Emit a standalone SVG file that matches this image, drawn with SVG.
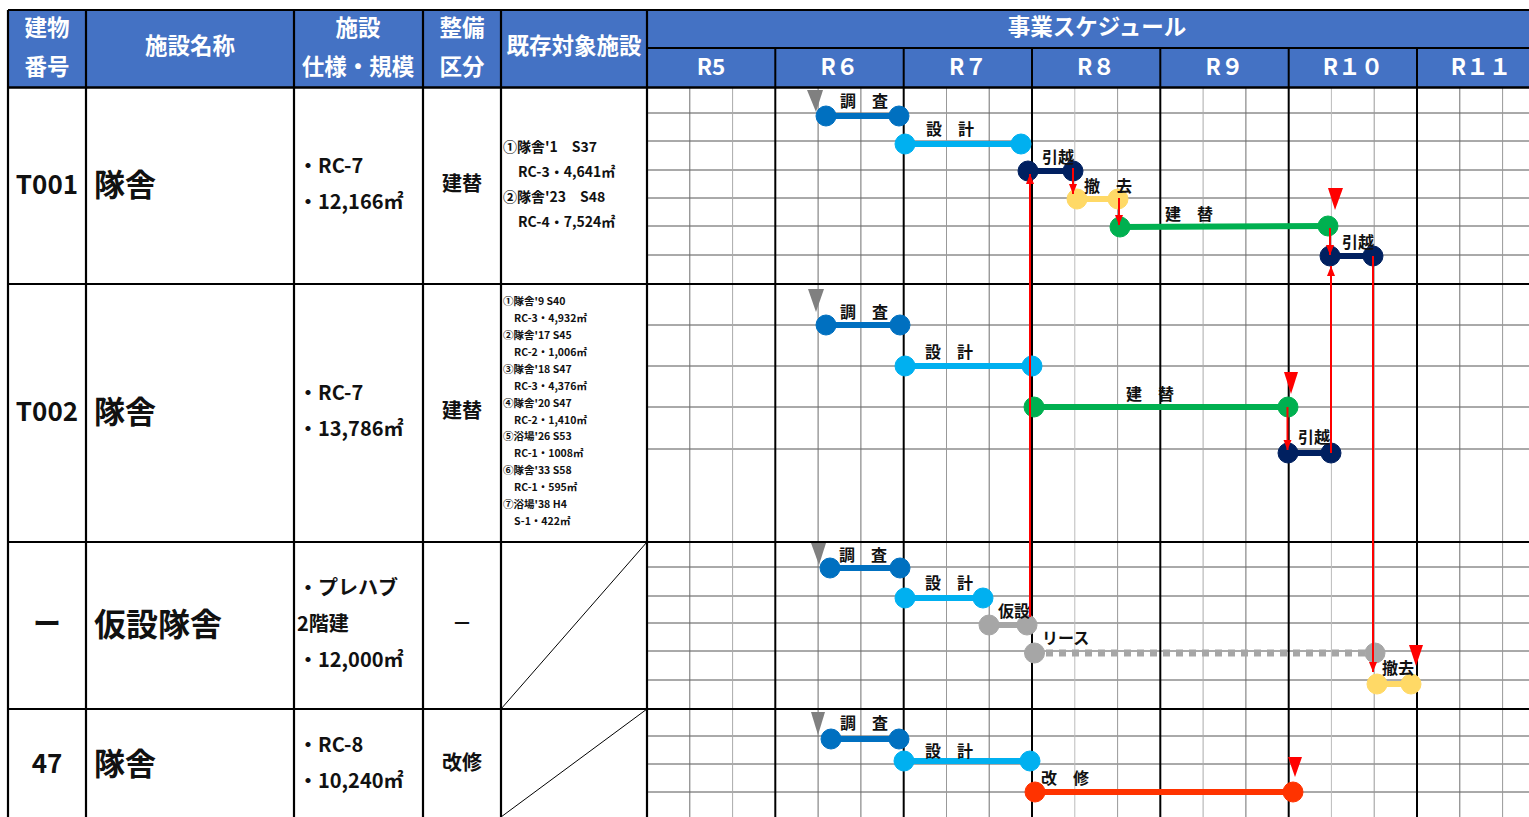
<svg xmlns="http://www.w3.org/2000/svg" width="1529" height="817" viewBox="0 0 1529 817">
<defs>
<style>
text{font-family:"Noto Sans CJK JP","Noto Sans CJK SC",sans-serif;font-weight:bold;fill:#111}
.hdr{fill:#fff;font-size:22.5px;text-anchor:middle;dominant-baseline:central}
.c{text-anchor:middle;dominant-baseline:central}
.m{dominant-baseline:central}
.lbl{font-size:16px;dominant-baseline:central}
.sub{stroke:#6e6e6e;stroke-width:1}
.subh{stroke:#555;stroke-width:1}
.yr{stroke:#000;stroke-width:2}
.bd{stroke:#000;stroke-width:2.2}
.bar{stroke-width:6}
.arr{stroke:#ff0000;stroke-width:2;fill:none;marker-end:url(#ah)}
.gt{fill:#808080}
.rt{fill:#ff0000}
</style>
<marker id="ah" markerUnits="userSpaceOnUse" markerWidth="10" markerHeight="10" refX="10" refY="4" orient="auto">
<path d="M0,0 L10,4 L0,8 z" fill="#ff0000"/>
</marker>
</defs>
<rect width="1529" height="817" fill="#fff"/>

<!-- header -->
<g id="header">
<rect x="8" y="10" width="1521" height="78" fill="#4472C4"/>
<line x1="8" y1="10" x2="1529" y2="10" class="bd"/>
<line x1="647" y1="48" x2="1529" y2="48" class="bd"/>
<g class="yr">
<line x1="775.3" y1="48" x2="775.3" y2="88"/>
<line x1="903.7" y1="48" x2="903.7" y2="88"/>
<line x1="1032" y1="48" x2="1032" y2="88"/>
<line x1="1160.3" y1="48" x2="1160.3" y2="88"/>
<line x1="1288.7" y1="48" x2="1288.7" y2="88"/>
<line x1="1417" y1="48" x2="1417" y2="88"/>
</g>
<text class="hdr" x="47" y="26">建物</text>
<text class="hdr" x="47" y="65">番号</text>
<text class="hdr" x="190" y="44">施設名称</text>
<text class="hdr" x="358" y="26">施設</text>
<text class="hdr" x="358" y="65">仕様・規模</text>
<text class="hdr" x="462" y="26">整備</text>
<text class="hdr" x="462" y="65">区分</text>
<text class="hdr" x="574" y="44">既存対象施設</text>
<text class="hdr" x="1097" y="25">事業スケジュール</text>
<text class="hdr" x="711" y="65">R5</text>
<text class="hdr" x="839.5" y="65">R６</text>
<text class="hdr" x="968" y="65">R７</text>
<text class="hdr" x="1096" y="65">R８</text>
<text class="hdr" x="1224.5" y="65">R９</text>
<text class="hdr" x="1353" y="65">R１０</text>
<text class="hdr" x="1481" y="65">R１１</text>
</g>

<!-- schedule grid -->
<g id="grid">
<g class="subh">
<line x1="647" y1="113" x2="1529" y2="113"/>
<line x1="647" y1="141" x2="1529" y2="141"/>
<line x1="647" y1="170" x2="1529" y2="170"/>
<line x1="647" y1="198" x2="1529" y2="198"/>
<line x1="647" y1="226" x2="1529" y2="226"/>
<line x1="647" y1="255" x2="1529" y2="255"/>
<line x1="647" y1="325" x2="1529" y2="325"/>
<line x1="647" y1="366" x2="1529" y2="366"/>
<line x1="647" y1="407" x2="1529" y2="407"/>
<line x1="647" y1="449" x2="1529" y2="449"/>
<line x1="647" y1="567" x2="1529" y2="567"/>
<line x1="647" y1="596" x2="1529" y2="596"/>
<line x1="647" y1="623" x2="1529" y2="623"/>
<line x1="647" y1="651" x2="1529" y2="651"/>
<line x1="647" y1="680" x2="1529" y2="680"/>
<line x1="647" y1="736" x2="1529" y2="736"/>
<line x1="647" y1="764" x2="1529" y2="764"/>
<line x1="647" y1="792" x2="1529" y2="792"/>
</g>
<g class="sub">
<line x1="689.8" y1="88" x2="689.8" y2="817"/>
<line x1="732.6" y1="88" x2="732.6" y2="817" stroke="#aaa"/>
<line x1="818.1" y1="88" x2="818.1" y2="817"/>
<line x1="860.9" y1="88" x2="860.9" y2="817"/>
<line x1="946.5" y1="88" x2="946.5" y2="817" stroke="#999"/>
<line x1="989.2" y1="88" x2="989.2" y2="817"/>
<line x1="1074.8" y1="88" x2="1074.8" y2="817" stroke="#bbb"/>
<line x1="1117.6" y1="88" x2="1117.6" y2="817" stroke="#999"/>
<line x1="1203.1" y1="88" x2="1203.1" y2="817" stroke="#aaa"/>
<line x1="1245.9" y1="88" x2="1245.9" y2="817"/>
<line x1="1331.4" y1="88" x2="1331.4" y2="817" stroke="#bbb"/>
<line x1="1374.2" y1="88" x2="1374.2" y2="817" stroke="#999"/>
<line x1="1459.8" y1="88" x2="1459.8" y2="817"/>
<line x1="1502.6" y1="88" x2="1502.6" y2="817" stroke="#999"/>
</g>
<g class="yr">
<line x1="775.3" y1="88" x2="775.3" y2="817"/>
<line x1="903.7" y1="88" x2="903.7" y2="817"/>
<line x1="1032" y1="88" x2="1032" y2="817"/>
<line x1="1160.3" y1="88" x2="1160.3" y2="817"/>
<line x1="1288.7" y1="88" x2="1288.7" y2="817"/>
<line x1="1417" y1="88" x2="1417" y2="817"/>
</g>
</g>

<!-- table borders -->
<g id="borders" class="bd">
<line x1="8" y1="10" x2="8" y2="817"/>
<line x1="86" y1="10" x2="86" y2="817"/>
<line x1="294" y1="10" x2="294" y2="817"/>
<line x1="423" y1="10" x2="423" y2="817"/>
<line x1="501" y1="10" x2="501" y2="817"/>
<line x1="647" y1="10" x2="647" y2="817"/>
<line x1="8" y1="87.5" x2="1529" y2="87.5" stroke-width="2.5"/>
<line x1="8" y1="284" x2="1529" y2="284"/>
<line x1="8" y1="542" x2="1529" y2="542"/>
<line x1="8" y1="709" x2="1529" y2="709"/>
<line x1="501" y1="709" x2="647" y2="542" stroke-width="1"/>
<line x1="501" y1="817" x2="647" y2="709" stroke-width="1"/>
</g>

<!-- row T001 -->
<g id="row-T001">
<text class="c" x="47" y="182" font-size="26">T001</text>
<text class="m" x="94" y="182" font-size="31">隊舎</text>
<text class="m" x="298" y="164" font-size="20">・RC-7</text>
<text class="m" x="298" y="200" font-size="20">・12,166㎡</text>
<text class="c" x="462" y="182" font-size="20">建替</text>
<text class="m" x="503" y="146" font-size="14">①隊舎'1　S37</text>
<text class="m" x="518" y="171" font-size="14">RC-3・4,641㎡</text>
<text class="m" x="503" y="196" font-size="14">②隊舎'23　S48</text>
<text class="m" x="518" y="221" font-size="14">RC-4・7,524㎡</text>
</g>

<!-- row T002 -->
<g id="row-T002">
<text class="c" x="47" y="409" font-size="26">T002</text>
<text class="m" x="94" y="409" font-size="31">隊舎</text>
<text class="m" x="298" y="391" font-size="20">・RC-7</text>
<text class="m" x="298" y="427" font-size="20">・13,786㎡</text>
<text class="c" x="462" y="409" font-size="20">建替</text>
<g font-size="10.5">
<text class="m" x="503" y="300">①隊舎'9 S40</text>
<text class="m" x="514" y="317">RC-3・4,932㎡</text>
<text class="m" x="503" y="334">②隊舎'17 S45</text>
<text class="m" x="514" y="351">RC-2・1,006㎡</text>
<text class="m" x="503" y="368">③隊舎'18 S47</text>
<text class="m" x="514" y="385">RC-3・4,376㎡</text>
<text class="m" x="503" y="402">④隊舎'20 S47</text>
<text class="m" x="514" y="419">RC-2・1,410㎡</text>
<text class="m" x="503" y="435">⑤浴場'26 S53</text>
<text class="m" x="514" y="452">RC-1・1008㎡</text>
<text class="m" x="503" y="469">⑥隊舎'33 S58</text>
<text class="m" x="514" y="486">RC-1・595㎡</text>
<text class="m" x="503" y="503">⑦浴場'38 H4</text>
<text class="m" x="514" y="520">S-1・422㎡</text>
</g>
</g>

<!-- row prefab -->
<g id="row-prefab">
<text class="c" x="47" y="622" font-size="28">ー</text>
<text class="m" x="94" y="622" font-size="32">仮設隊舎</text>
<text class="m" x="298" y="586" font-size="20">・プレハブ</text>
<text class="m" x="297" y="622" font-size="20">2階建</text>
<text class="m" x="298" y="658" font-size="20">・12,000㎡</text>
<text class="c" x="462" y="622" font-size="20" font-weight="normal" fill="#444">－</text>
</g>

<!-- row 47 -->
<g id="row-47">
<text class="c" x="47" y="761" font-size="26">47</text>
<text class="m" x="94" y="761" font-size="31">隊舎</text>
<text class="m" x="298" y="743" font-size="20">・RC-8</text>
<text class="m" x="298" y="779" font-size="20">・10,240㎡</text>
<text class="c" x="462" y="761" font-size="20">改修</text>
</g>

<!-- bars T001 -->
<g id="bars-T001">
<polygon class="gt" points="807,90 823,90 816,112"/>
<g stroke="#0070C0" fill="#0070C0"><line class="bar" x1="826" y1="116" x2="899" y2="116"/><circle cx="826" cy="116" r="10"/><circle cx="899" cy="116" r="10"/></g>
<text class="lbl" x="840" y="100">調　査</text>
<g stroke="#00B0F0" fill="#00B0F0"><line class="bar" x1="905" y1="144" x2="1021" y2="144"/><circle cx="905" cy="144" r="10"/><circle cx="1021" cy="144" r="10"/></g>
<text class="lbl" x="926" y="128">設　計</text>
<g stroke="#002060" fill="#002060"><line class="bar" x1="1028" y1="171" x2="1073" y2="171"/><circle cx="1028" cy="171" r="10"/><circle cx="1073" cy="171" r="10"/></g>
<text class="lbl" x="1042" y="156">引越</text>
<g stroke="#FFD966" fill="#FFD966"><line class="bar" x1="1077" y1="199" x2="1118" y2="199"/><circle cx="1077" cy="199" r="10"/><circle cx="1118" cy="199" r="10"/></g>
<text class="lbl" x="1084" y="185">撤　去</text>
<g stroke="#00B050" fill="#00B050"><line class="bar" x1="1120" y1="227" x2="1328" y2="226"/><circle cx="1120" cy="227" r="10"/><circle cx="1328" cy="226" r="10"/></g>
<text class="lbl" x="1165" y="213">建　替</text>
<polygon class="rt" points="1328,188 1343,188 1335,210"/>
<g stroke="#002060" fill="#002060"><line class="bar" x1="1330" y1="256" x2="1373" y2="256"/><circle cx="1330" cy="256" r="10"/><circle cx="1373" cy="256" r="10"/></g>
<text class="lbl" x="1342" y="241">引越</text>
</g>

<!-- bars T002 -->
<g id="bars-T002">
<polygon class="gt" points="808,289 824,289 816,312"/>
<g stroke="#0070C0" fill="#0070C0"><line class="bar" x1="826" y1="325" x2="900" y2="325"/><circle cx="826" cy="325" r="10"/><circle cx="900" cy="325" r="10"/></g>
<text class="lbl" x="840" y="311">調　査</text>
<g stroke="#00B0F0" fill="#00B0F0"><line class="bar" x1="905" y1="366" x2="1032" y2="366"/><circle cx="905" cy="366" r="10"/><circle cx="1032" cy="366" r="10"/></g>
<text class="lbl" x="925" y="351">設　計</text>
<g stroke="#00B050" fill="#00B050"><line class="bar" x1="1034" y1="407" x2="1288" y2="407"/><circle cx="1034" cy="407" r="10"/><circle cx="1288" cy="407" r="10"/></g>
<text class="lbl" x="1126" y="393">建　替</text>
<polygon class="rt" points="1284,372 1298,372 1291,394"/>
<g stroke="#002060" fill="#002060"><line class="bar" x1="1288" y1="453" x2="1331" y2="453"/><circle cx="1288" cy="453" r="10"/><circle cx="1331" cy="453" r="10"/></g>
<text class="lbl" x="1298" y="436">引越</text>
</g>

<!-- bars prefab -->
<g id="bars-prefab">
<polygon class="gt" points="811,543 826,543 819,565"/>
<g stroke="#0070C0" fill="#0070C0"><line class="bar" x1="830" y1="568" x2="900" y2="568"/><circle cx="830" cy="568" r="10"/><circle cx="900" cy="568" r="10"/></g>
<text class="lbl" x="839" y="554">調　査</text>
<g stroke="#00B0F0" fill="#00B0F0"><line class="bar" x1="905" y1="598" x2="983" y2="598"/><circle cx="905" cy="598" r="10"/><circle cx="983" cy="598" r="10"/></g>
<text class="lbl" x="925" y="582">設　計</text>
<g stroke="#A6A6A6" fill="#A6A6A6"><line class="bar" x1="989" y1="625" x2="1027" y2="625"/><circle cx="989" cy="625" r="10"/><circle cx="1027" cy="625" r="10"/></g>
<text class="lbl" x="998" y="610">仮設</text>
<g stroke="#A6A6A6" fill="#A6A6A6"><line x1="1046" y1="653" x2="1366" y2="653" stroke-width="7" stroke-dasharray="7 6"/><circle cx="1034.5" cy="653" r="10"/><circle cx="1375" cy="653" r="10"/></g>
<text class="lbl" x="1042" y="637">リース</text>
<g stroke="#FFD966" fill="#FFD966"><line class="bar" x1="1377" y1="684" x2="1411" y2="684"/><circle cx="1377" cy="684" r="10"/><circle cx="1411" cy="684" r="10"/></g>
<text class="lbl" x="1382" y="667">撤去</text>
<polygon class="rt" points="1409,645 1423,645 1416,666"/>
</g>

<!-- bars 47 -->
<g id="bars-47">
<polygon class="gt" points="811,712 825,712 818,735"/>
<g stroke="#0070C0" fill="#0070C0"><line class="bar" x1="831" y1="739" x2="899" y2="739"/><circle cx="831" cy="739" r="10"/><circle cx="899" cy="739" r="10"/></g>
<text class="lbl" x="840" y="722">調　査</text>
<g stroke="#00B0F0" fill="#00B0F0"><line class="bar" x1="904" y1="761" x2="1030" y2="761"/><circle cx="904" cy="761" r="10"/><circle cx="1030" cy="761" r="10"/></g>
<text class="lbl" x="925" y="750">設　計</text>
<g stroke="#FF3300" fill="#FF3300"><line class="bar" x1="1035" y1="792" x2="1293" y2="792"/><circle cx="1035" cy="792" r="10"/><circle cx="1293" cy="792" r="10"/></g>
<text class="lbl" x="1041" y="777">改　修</text>
<polygon class="rt" points="1288,757 1302,757 1295,777"/>
</g>

<!-- connectors -->
<g id="connectors">
<line class="arr" x1="1073" y1="168" x2="1073" y2="194"/>
<line class="arr" x1="1119" y1="198" x2="1119" y2="225"/>
<line class="arr" x1="1330" y1="228" x2="1330" y2="255"/>
<line class="arr" x1="1287.5" y1="407" x2="1287.5" y2="450"/>
<line class="arr" x1="1331" y1="453" x2="1331" y2="266"/>
<line class="arr" x1="1373" y1="256" x2="1373" y2="672"/>
<line class="arr" x1="1030" y1="617" x2="1030" y2="174"/>
</g>
</svg>
